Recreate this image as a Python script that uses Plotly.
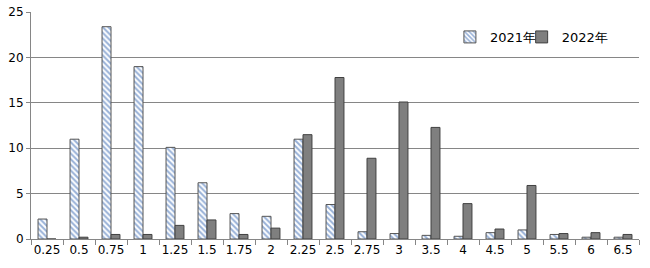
import plotly.graph_objects as go

categories = ["0.25", "0.5", "0.75", "1", "1.25", "1.5", "1.75", "2", "2.25", "2.5",
              "2.75", "3", "3.5", "4", "4.5", "5", "5.5", "6", "6.5"]
values_2021 = [2.2, 11.0, 23.4, 19.0, 10.1, 6.2, 2.8, 2.5, 11.0, 3.8,
               0.8, 0.6, 0.4, 0.3, 0.7, 1.0, 0.5, 0.2, 0.2]
values_2022 = [0.0, 0.2, 0.5, 0.5, 1.5, 2.1, 0.5, 1.2, 11.5, 17.8,
               8.9, 15.1, 12.3, 3.9, 1.1, 5.9, 0.6, 0.7, 0.5]
y_ticks = [0, 5, 10, 15, 20, 25]

font_family = "DejaVu Sans, Verdana, sans-serif"

fig = go.Figure()
fig.add_trace(go.Bar(
    x=categories, y=values_2021, name="2021年", legend="legend",
    marker=dict(color="white",
                line=dict(color="#555555", width=1),
                pattern=dict(shape="\\", fgcolor="#2f62b0", bgcolor="white",
                             size=4, solidity=0.5)),
))
fig.add_trace(go.Bar(
    x=categories, y=values_2022, name="2022年", legend="legend2",
    marker=dict(color="#7f7f7f", line=dict(color="#404040", width=1)),
))

legend_common = dict(orientation="h", y=0.89, xanchor="left", yanchor="middle",
                     bgcolor="rgba(0,0,0,0)", font=dict(size=13), itemwidth=30)

fig.update_layout(
    width=650, height=268,
    margin=dict(l=31, r=11, t=12, b=29, autoexpand=False),
    paper_bgcolor="white", plot_bgcolor="white",
    barmode="group", bargap=0.44, bargroupgap=0,
    font=dict(family=font_family, size=12, color="black"),
    showlegend=True,
    legend=dict(x=0.689, **legend_common),
    legend2=dict(x=0.807, **legend_common),
)
fig.update_xaxes(
    type="category", showgrid=False, automargin=False, tickangle=0,
    showline=True, linecolor="#868686", linewidth=1,
    ticks="outside", tickson="boundaries", ticklen=5, tickcolor="#868686",
    tickfont=dict(size=12),
)
fig.update_yaxes(
    range=[0, 25.02], tickvals=y_ticks, automargin=False,
    showgrid=True, gridcolor="#868686", gridwidth=1,
    showline=True, linecolor="#868686", linewidth=1,
    ticks="outside", ticklen=4, tickcolor="#868686",
    zeroline=False, tickfont=dict(size=12),
)

fig.write_html("out.html")
